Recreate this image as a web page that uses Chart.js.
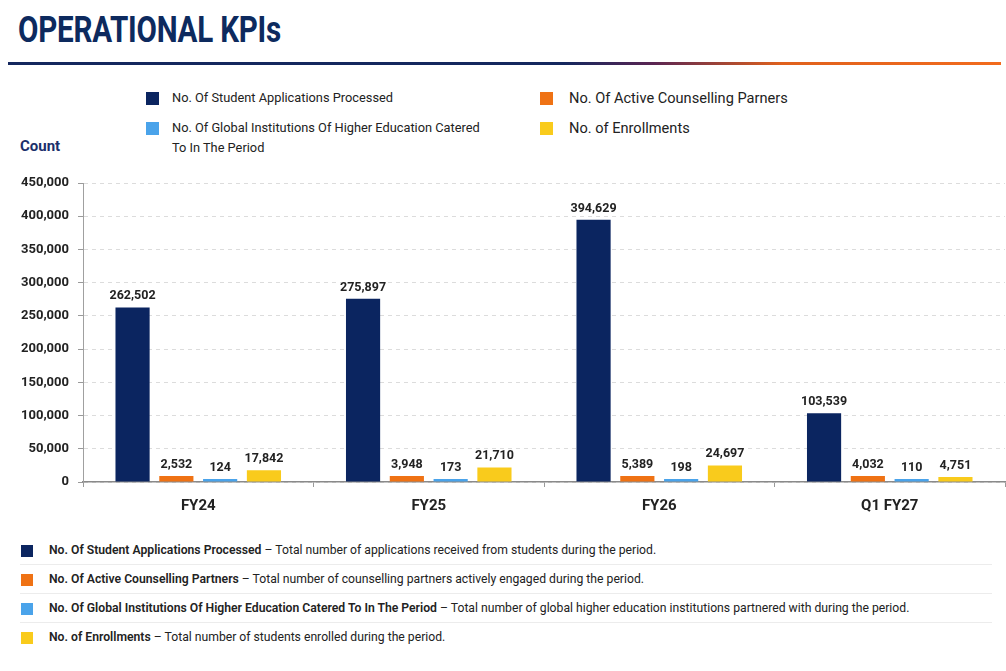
<!DOCTYPE html>
<html>
<head>
<meta charset="utf-8">
<title>Operational KPIs</title>
<script src="https://cdn.jsdelivr.net/npm/chart.js@4.4.1/dist/chart.umd.min.js"></script>
<style>
  body { margin: 0; width: 1006px; height: 671px; background: #fff; position: relative; overflow: hidden;
         font-family: Roboto, "Noto Sans", sans-serif; color: #222; }
  #title { position: absolute; left: 18px; top: 8px; font-size: 37px; font-weight: 700; color: #0d2a5e;
           transform-origin: left top; transform: scaleX(0.8); white-space: nowrap; letter-spacing: -0.3px; }
  #rule { position: absolute; left: 8px; top: 62px; width: 993px; height: 3px;
          background: linear-gradient(to right, #14275e 0%, #14275e 56%, #5a2552 65%, #e0611c 78%, #f26b1d 100%); }
  .sw { position: absolute; width: 13px; height: 13px; }
  .lg { position: absolute; white-space: nowrap; }
  .lg.small { font-size: 12.8px; line-height: 20px; }
  .lg.big { font-size: 14.6px; line-height: 20px; }
  #count { position: absolute; left: 20px; top: 137px; font-size: 15px; font-weight: 700; color: #1b2f6b; }
  #chartBox { position: absolute; left: 0; top: 160px; width: 1006px; height: 360px; }
  .note { position: absolute; left: 20px; width: 972px; height: 29px; }
  .note .sw { left: 1px; top: 9px; width: 12px; height: 12px; }
  .note .tx { position: absolute; left: 29px; top: 0; line-height: 29px; font-size: 12.2px; white-space: nowrap; }
  .note .tx b { font-weight: 600; }
  .sep { position: absolute; left: 20px; width: 972px; height: 1px; background: #ececec; }
</style>
</head>
<body>
<div id="title">OPERATIONAL KPIs</div>
<div id="rule"></div>

<div id="legend"></div>
<div id="count">Count</div>
<div id="chartBox"><canvas id="kpiChart"></canvas></div>
<div id="notes"></div>

<script>
// Data
const categories = ["FY24", "FY25", "FY26", "Q1 FY27"];
const applications = [262502, 275897, 394629, 103539];
const partners = [2532, 3948, 5389, 4032];
const institutions = [124, 173, 198, 110];
const enrollments = [17842, 21710, 24697, 4751];

const seriesNames = [
  "No. Of Student Applications Processed",
  "No. Of Active Counselling Parners",
  "No. Of Global Institutions Of Higher Education Catered To In The Period",
  "No. of Enrollments",
];
const noteTitles = [
  "No. Of Student Applications Processed",
  "No. Of Active Counselling Partners",
  "No. Of Global Institutions Of Higher Education Catered To In The Period",
  "No. of Enrollments",
];
const noteTexts = [
  "Total number of applications received from students during the period.",
  "Total number of counselling partners actively engaged during the period.",
  "Total number of global higher education institutions partnered with during the period.",
  "Total number of students enrolled during the period.",
];
const yMax = 450000;
const yStep = 50000;

const COLORS = ["#0b2560", "#ef7214", "#4aa3ea", "#f9cb1c"];

// Legend (top)
const legend = document.getElementById("legend");
const legendSpots = [
  { sx: 146, sy: 92, tx: 172, ty: 88, cls: "small", text: seriesNames[0] },
  { sx: 540, sy: 92, tx: 569, ty: 88, cls: "big", text: seriesNames[1] },
  { sx: 146, sy: 122, tx: 172, ty: 118, cls: "small", text: "No. Of Global Institutions Of Higher Education Catered<br>To In The Period" },
  { sx: 540, sy: 122, tx: 569, ty: 118, cls: "big", text: seriesNames[3] },
];
legendSpots.forEach((s, i) => {
  const sw = document.createElement("div");
  sw.className = "sw";
  sw.style.left = s.sx + "px";
  sw.style.top = s.sy + "px";
  sw.style.background = COLORS[i];
  legend.appendChild(sw);
  const t = document.createElement("div");
  t.className = "lg " + s.cls;
  t.style.left = s.tx + "px";
  t.style.top = s.ty + "px";
  t.innerHTML = s.text;
  legend.appendChild(t);
});

// Notes (bottom)
const notes = document.getElementById("notes");
noteTitles.forEach((title, i) => {
  const row = document.createElement("div");
  row.className = "note";
  row.style.top = 536 + i * 29 + "px";
  row.innerHTML = '<div class="sw" style="background:' + COLORS[i] + '"></div>' +
    '<div class="tx"><b>' + title + "</b> \u2013 " + noteTexts[i] + "</div>";
  notes.appendChild(row);
  if (i < 3) {
    const sep = document.createElement("div");
    sep.className = "sep";
    sep.style.top = 564 + i * 29 + "px";
    notes.appendChild(sep);
  }
});

// value labels above bars
const valueLabels = {
  id: "valueLabels",
  afterDatasetsDraw(chart) {
    const c = chart.ctx;
    c.save();
    c.font = "bold 12.5px Roboto";
    c.fillStyle = "#222";
    c.textAlign = "center";
    c.textBaseline = "bottom";
    chart.data.datasets.forEach((ds, i) => {
      chart.getDatasetMeta(i).data.forEach((bar, j) => {
        c.fillText(ds.data[j].toLocaleString("en-US"), bar.x, bar.y - 5);
      });
    });
    c.restore();
  },
};

const seriesData = [applications, partners, institutions, enrollments];
const minLens = [0, 6, 3, 5];

new Chart(document.getElementById("kpiChart"), {
  type: "bar",
  data: {
    labels: categories,
    datasets: seriesData.map((d, i) => ({
      label: seriesNames[i],
      data: d,
      backgroundColor: COLORS[i],
      minBarLength: minLens[i],
      barPercentage: 0.78,
      categoryPercentage: 0.76,
    })),
  },
  options: {
    responsive: true,
    maintainAspectRatio: false,
    animation: false,
    layout: { padding: { top: 23, right: 1, bottom: 0, left: 0 } },
    plugins: { legend: { display: false }, tooltip: { enabled: false } },
    scales: {
      x: {
        grid: { display: true, drawOnChartArea: false, tickLength: 5, color: "#9a9a9a", offset: true },
        border: { color: "#8a8a8a", width: 1.5 },
        ticks: { font: { family: "Roboto", size: 15, weight: "bold" }, color: "#222", padding: 10 },
        afterFit(s) { s.height = 38; },
      },
      y: {
        min: 0,
        max: yMax,
        ticks: {
          stepSize: yStep,
          font: { family: "Roboto", size: 13, weight: "bold" },
          color: "#222",
          padding: 9,
          callback: (v) => v.toLocaleString("en-US"),
        },
        grid: { color: "#dcdcdc", tickLength: 5, tickColor: "#9a9a9a" },
        border: { color: "#a0a0a0", dash: [4, 4] },
        afterFit(s) { s.width = 83; },
      },
    },
  },
  plugins: [valueLabels],
});
</script>
</body>
</html>
